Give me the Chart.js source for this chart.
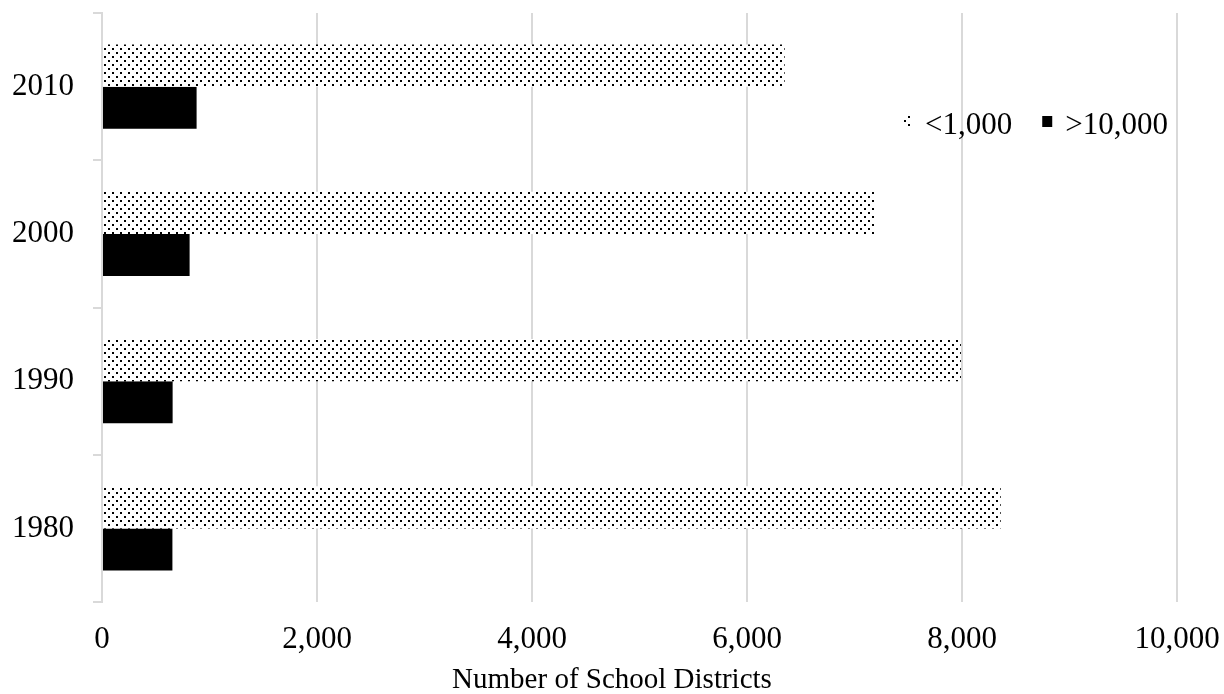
<!DOCTYPE html>
<html>
<head>
<meta charset="utf-8">
<script src="https://cdn.jsdelivr.net/npm/chart.js@4/dist/chart.umd.min.js"></script>
<style>
  html, body { margin: 0; padding: 0; background: #ffffff; }
  #wrap { width: 1224px; height: 694px; }
</style>
</head>
<body>
<div id="wrap"><canvas id="chart" width="1224" height="694"></canvas></div>
<script>
// Census years, top to bottom
const years = ['2010', '2000', '1990', '1980'];
// Number of districts enrolling fewer than 1,000 students
const smallDistricts = [6350, 7200, 7990, 8360];
// Number of districts enrolling more than 10,000 students
const largeDistricts = [880, 815, 657, 655];
const seriesNames = ['<1,000', '>10,000'];
const axisTitle = 'Number of School Districts';
const axisMax = 10000;
const axisStep = 2000;

const FONT = "'Liberation Serif', 'Times New Roman', serif";
const GRID = '#d9d9d9';

// Dotted fill: white tile with staggered black dots
function dotPattern() {
  const c = document.createElement('canvas');
  c.width = 8; c.height = 8;
  const g = c.getContext('2d');
  g.fillStyle = '#ffffff';
  g.fillRect(0, 0, 8, 8);
  g.fillStyle = '#000000';
  g.fillRect(0, 0, 2, 2);
  g.fillRect(4, 4, 2, 2);
  return g.createPattern(c, 'repeat');
}
const dots = dotPattern();

// Legend drawn inside the plot, to the right
const insideLegend = {
  id: 'insideLegend',
  afterDatasetsDraw(chart) {
    const ctx = chart.ctx;
    const x0 = 902, y0 = 126;
    ctx.save();
    ctx.font = '31px ' + FONT;
    ctx.textBaseline = 'middle';
    ctx.textAlign = 'left';
    let x = x0;
    chart.data.datasets.forEach((ds) => {
      ctx.fillStyle = ds.backgroundColor;
      ctx.fillRect(x, y0 - 10, 10, 11);
      ctx.fillStyle = '#000000';
      ctx.fillText(ds.label, x + 23, y0);
      x += 23 + ctx.measureText(ds.label).width + 30;
    });
    ctx.restore();
  }
};

// Value-axis title, centred on the whole chart width
const centredAxisTitle = {
  id: 'centredAxisTitle',
  afterDraw(chart) {
    const ctx = chart.ctx;
    ctx.save();
    ctx.font = '29px ' + FONT;
    ctx.fillStyle = '#000000';
    ctx.textAlign = 'center';
    ctx.textBaseline = 'middle';
    ctx.fillText(axisTitle, chart.width / 2, 680);
    ctx.restore();
  }
};

new Chart(document.getElementById('chart'), {
  type: 'bar',
  data: {
    labels: years,
    datasets: [
      { label: seriesNames[0], data: smallDistricts, backgroundColor: dots, borderWidth: 0 },
      { label: seriesNames[1], data: largeDistricts, backgroundColor: '#000000', borderWidth: 0 }
    ]
  },
  options: {
    indexAxis: 'y',
    responsive: false,
    animation: false,
    devicePixelRatio: 1,
    layout: { padding: { left: 13, top: 13, right: 47, bottom: 0 } },
    datasets: { bar: { categoryPercentage: 0.573, barPercentage: 1 } },
    plugins: { legend: { display: false }, tooltip: { enabled: false } },
    scales: {
      x: {
        min: 0,
        max: axisMax,
        border: { display: false },
        grid: { color: GRID, lineWidth: 2, drawTicks: false },
        ticks: {
          stepSize: axisStep,
          padding: 19,
          maxRotation: 0,
          color: '#000000',
          font: { family: FONT, size: 31 },
          callback: (v) => Number(v).toLocaleString('en-US')
        },
        afterFit(scale) {
          scale.height = 92;
          scale.paddingLeft = 0;
          scale.paddingRight = 0;
        }
      },
      y: {
        border: { display: true, color: GRID, width: 2 },
        grid: { color: GRID, lineWidth: 2, drawOnChartArea: false, drawTicks: true, tickLength: 9 },
        ticks: {
          padding: 19,
          color: '#000000',
          font: { family: FONT, size: 31 }
        },
        afterFit(scale) {
          scale.width = 89;
          scale.paddingTop = 0;
          scale.paddingBottom = 0;
        }
      }
    }
  },
  plugins: [insideLegend, centredAxisTitle]
});
</script>
</body>
</html>
